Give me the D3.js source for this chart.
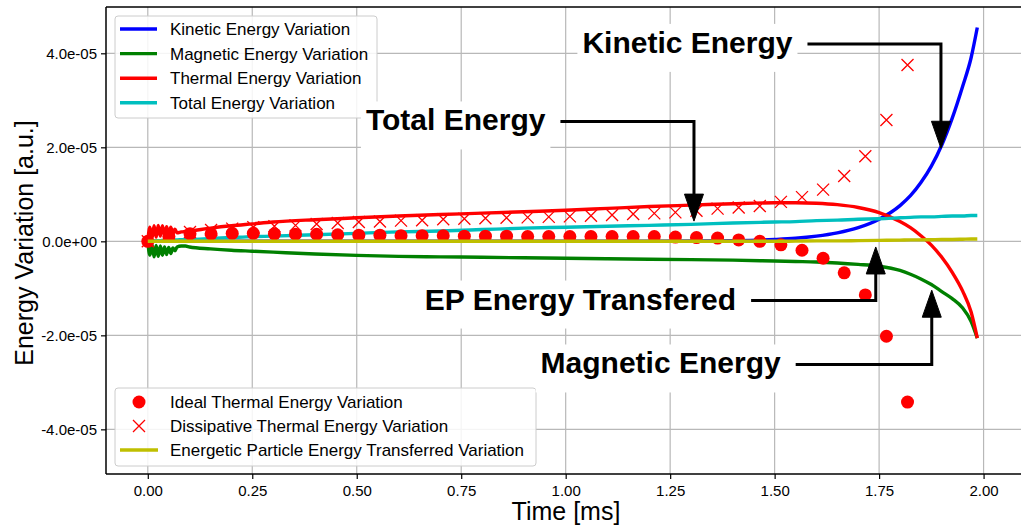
<!DOCTYPE html>
<html><head><meta charset="utf-8">
<script src="https://cdn.jsdelivr.net/npm/d3@7"></script>
<style>
body{margin:0;background:#fff}
svg{display:block}
text{font-family:"Liberation Sans",Arial,Helvetica,sans-serif}
</style>
</head><body>
<svg id="chart" width="1021" height="529"></svg>
<script>
// ---------- DATA (energies in units of 1e-5 a.u.) ----------
const tLine = [0,0.005,0.01,0.015,0.02,0.025,0.03,0.035,0.04,0.045,
  0.05,0.055,0.06,0.065,0.07,0.08,0.09,0.1,
  0.15,0.2,0.25,0.3,0.4,0.5,0.6,0.7,0.8,0.9,
  1.0,1.1,1.2,1.3,1.4,1.5,
  1.55,1.6,1.65,1.7,1.75,1.8,
  1.825,1.85,1.875,1.9,1.925,1.95,1.97,1.985];
const kineticVar = [0,0,0,0,0,0,0,0,0,0,
  0,0,0,0,0,0,0,0,
  0,0,0,0,0,0,0,0,0,0,
  0,0,0.002,0.006,0.015,0.04,
  0.065,0.11,0.18,0.29,0.47,0.76,
  0.97,1.25,1.6,2.05,2.62,3.3,3.9,4.55];
const magneticVar = [0,-0.3,-0.06,-0.33,-0.09,-0.32,-0.1,-0.3,-0.12,-0.28,
  -0.13,-0.26,-0.14,-0.2,-0.12,-0.1,-0.1,-0.12,
  -0.16,-0.19,-0.21,-0.23,-0.27,-0.3,-0.32,-0.33,-0.34,-0.35,
  -0.36,-0.37,-0.38,-0.39,-0.4,-0.42,
  -0.43,-0.44,-0.46,-0.49,-0.53,-0.62,
  -0.7,-0.8,-0.92,-1.07,-1.22,-1.42,-1.7,-2.06];
const thermalVar = [0,0.3,0.06,0.33,0.09,0.34,0.11,0.33,0.13,0.31,
  0.15,0.3,0.16,0.26,0.18,0.2,0.21,0.22,
  0.28,0.33,0.37,0.41,0.46,0.5,0.54,0.57,0.6,0.63,
  0.66,0.7,0.74,0.77,0.8,0.82,
  0.82,0.81,0.78,0.72,0.61,0.42,
  0.29,0.12,-0.08,-0.34,-0.66,-1.06,-1.5,-2.06];
const totalVar = [0,0.01,0.005,0.01,0.01,0.015,0.015,0.02,0.02,0.02,
  0.025,0.025,0.03,0.03,0.03,0.035,0.04,0.04,
  0.06,0.08,0.1,0.11,0.14,0.17,0.2,0.22,0.25,0.28,
  0.3,0.32,0.34,0.36,0.39,0.41,
  0.42,0.44,0.45,0.47,0.48,0.5,
  0.51,0.52,0.52,0.53,0.54,0.54,0.55,0.55];
const epTransferVar = [0,0,0,0,0,0,0,0,0,0,
  0,0,0,0,0,0,0,0,
  0,0,0,0,0,0,0,0,0,0,
  0,0,0,0,0,0,
  0.005,0.01,0.01,0.015,0.02,0.025,
  0.03,0.03,0.035,0.04,0.04,0.045,0.05,0.05];

const tMarks = [0,0.0505,0.101,0.1515,0.202,0.2525,0.303,0.3535,0.404,0.4545,
  0.505,0.5555,0.606,0.6565,0.707,0.7575,0.808,0.8585,0.909,0.9595,
  1.01,1.0605,1.111,1.1615,1.212,1.2625,1.313,1.3635,1.414,1.4645,
  1.515,1.5655,1.616,1.6665,1.717,1.7675,1.818];
const idealThermal = [0,0.1,0.16,0.16,0.17,0.17,0.16,0.15,0.15,0.14,
  0.13,0.13,0.12,0.12,0.12,0.11,0.11,0.11,0.1,0.1,
  0.1,0.1,0.1,0.1,0.1,0.09,0.08,0.07,0.03,0.0,
  -0.075,-0.19,-0.36,-0.67,-1.14,-2.02,-3.42];
const dissipThermal = [0,0.15,0.2,0.24,0.27,0.3,0.32,0.34,0.37,0.39,
  0.41,0.42,0.44,0.45,0.47,0.48,0.49,0.5,0.51,0.52,
  0.53,0.545,0.56,0.58,0.595,0.615,0.65,0.695,0.72,0.75,
  0.84,0.94,1.1,1.39,1.81,2.58,3.75];

const xTicks = [0,0.25,0.5,0.75,1.0,1.25,1.5,1.75,2.0];
const xTickLabels = ["0.00","0.25","0.50","0.75","1.00","1.25","1.50","1.75","2.00"];
const yTicks = [-4e-5,-2e-5,0,2e-5,4e-5];
const yTickLabels = ["-4.0e-05","-2.0e-05","0.0e+00","2.0e-05","4.0e-05"];

const legend1Labels = ["Kinetic Energy Variation","Magnetic Energy Variation","Thermal Energy Variation","Total Energy Variation"];
const legend2Labels = ["Ideal Thermal Energy Variation","Dissipative Thermal Energy Variation","Energetic Particle Energy Transferred Variation"];

const annoTexts = ["Kinetic Energy","Total Energy","EP Energy Transfered","Magnetic Energy"];
const annoTextT = [1.04,0.522,0.663,0.94];      // left edge of the text (ms)
const annoLineV = [4.2,2.55,-1.26,-2.62];        // level of the arrow's horizontal leg (1e-5)
const annoTipT  = [1.898,1.307,1.742,1.876];     // arrow tip (ms)
const annoTipV  = [1.98,0.43,-0.12,-1.04];       // arrow tip (1e-5)

// ---------- CHART ----------
const W = 1021, H = 529;
const L = 106, R = 1019.1, T = 7, B = 474;
const svg = d3.select("#chart");
const x = d3.scaleLinear().domain([-0.1, 2.085]).range([L, R]);
const y = d3.scaleLinear().domain([-4.95e-5, 4.985e-5]).range([B, T]);
const S = 1e-5;

const COL = {blue:"#0000ff", green:"#008000", red:"#ff0000", cyan:"#00bfbf", yellow:"#bfbf00"};

svg.append("rect").attr("width",W).attr("height",H).attr("fill","#fff");
svg.append("defs").append("clipPath").attr("id","clip")
  .append("rect").attr("x",L).attr("y",T).attr("width",W-L).attr("height",B-T);

// grid
const grid = svg.append("g").attr("stroke","#b8b8b8").attr("stroke-width",1.2);
grid.selectAll(".gx").data(xTicks).join("line")
  .attr("x1",d=>x(d)).attr("x2",d=>x(d)).attr("y1",T).attr("y2",B);
grid.selectAll(".gy").data(yTicks).join("line")
  .attr("x1",L).attr("x2",W).attr("y1",d=>y(d)).attr("y2",d=>y(d));

// axes
const xAxis = d3.axisBottom(x).tickValues(xTicks).tickFormat((d,i)=>xTickLabels[i]).tickSize(5).tickSizeOuter(0);
const yAxis = d3.axisLeft(y).tickValues(yTicks).tickFormat((d,i)=>yTickLabels[i]).tickSize(5).tickSizeOuter(0);
const gx = svg.append("g").attr("transform",`translate(0,${B})`).call(xAxis);
const gy = svg.append("g").attr("transform",`translate(${L},0)`).call(yAxis);
gx.select(".domain").remove(); gy.select(".domain").remove();
[gx,gy].forEach(g=>{
  g.selectAll(".tick line").attr("stroke","#000").attr("stroke-width",1.2);
  g.selectAll(".tick text").attr("font-size","15px").attr("fill","#000")
    .attr("font-family","'Liberation Sans',Arial,sans-serif");
});
gx.selectAll(".tick text").attr("dy",null).attr("y",21.5);
gy.selectAll(".tick text").attr("x",-9).attr("dy","0.35em");

// spines
svg.append("line").attr("x1",L).attr("x2",L).attr("y1",T).attr("y2",B).attr("stroke","#000").attr("stroke-width",1.5);
svg.append("line").attr("x1",L).attr("x2",W).attr("y1",B).attr("y2",B).attr("stroke","#000").attr("stroke-width",1.5);
svg.append("line").attr("x1",L).attr("x2",W).attr("y1",T).attr("y2",T).attr("stroke","#000").attr("stroke-width",1.5);

// axis labels
svg.append("text").attr("x",566).attr("y",520).attr("text-anchor","middle")
  .attr("font-size","25px").text("Time [ms]");
svg.append("text").attr("transform","translate(33,243) rotate(-90)").attr("text-anchor","middle")
  .attr("font-size","25px").text("Energy Variation [a.u.]");

// data series
const plot = svg.append("g").attr("clip-path","url(#clip)");
const lineGen = vals => d3.line().x((d,i)=>x(tLine[i])).y(d=>y(d*S)).curve(d3.curveMonotoneX)(vals);
const lw = 3.4;
[[kineticVar,COL.blue],[magneticVar,COL.green],[thermalVar,COL.red],[totalVar,COL.cyan]].forEach(([v,c])=>{
  plot.append("path").attr("d",lineGen(v)).attr("fill","none").attr("stroke",c)
    .attr("stroke-width",lw).attr("stroke-linejoin","round").attr("stroke-linecap","butt");
});
plot.selectAll(".dot").data(idealThermal).join("circle")
  .attr("cx",(d,i)=>x(tMarks[i])).attr("cy",d=>y(d*S)).attr("r",6.5).attr("fill",COL.red);
plot.selectAll(".xm").data(dissipThermal).join("path")
  .attr("transform",(d,i)=>`translate(${x(tMarks[i])},${y(d*S)})`)
  .attr("d","M-6,-6L6,6M-6,6L6,-6").attr("stroke",COL.red).attr("stroke-width",1.3).attr("fill","none");
plot.append("path").attr("d",lineGen(epTransferVar)).attr("fill","none").attr("stroke",COL.yellow)
  .attr("stroke-width",lw).attr("stroke-linejoin","round");

// legends
function legendBox(x0,y0,w,h){
  svg.append("rect").attr("x",x0).attr("y",y0).attr("width",w).attr("height",h).attr("rx",3)
    .attr("fill","#fff").attr("fill-opacity",0.85).attr("stroke","#cccccc").attr("stroke-width",1);
}
const lg1Colors = [COL.blue,COL.green,COL.red,COL.cyan];
const rowH = 24.6;
legendBox(115,16,262,102);
const lg1 = svg.append("g");
legend1Labels.forEach((lab,i)=>{
  const yy = 29 + i*rowH;
  lg1.append("line").attr("x1",120).attr("x2",157).attr("y1",yy).attr("y2",yy)
    .attr("stroke",lg1Colors[i]).attr("stroke-width",lw);
  lg1.append("text").attr("x",170).attr("y",yy+6).attr("font-size","17px").text(lab);
});
legendBox(115,388,421,78);
const lg2 = svg.append("g");
legend2Labels.forEach((lab,i)=>{
  const yy = 402 + i*24;
  if(i===0) lg2.append("circle").attr("cx",139).attr("cy",yy).attr("r",6.5).attr("fill",COL.red);
  if(i===1) lg2.append("path").attr("transform",`translate(139,${yy})`).attr("d","M-6,-6L6,6M-6,6L6,-6")
    .attr("stroke",COL.red).attr("stroke-width",1.3);
  if(i===2) lg2.append("line").attr("x1",120).attr("x2",158).attr("y1",yy).attr("y2",yy)
    .attr("stroke",COL.yellow).attr("stroke-width",lw);
  lg2.append("text").attr("x",170).attr("y",yy+6).attr("font-size","17px").text(lab);
});

// annotations
const ann = svg.append("g");
annoTexts.forEach((txt,i)=>{
  const tx = x(annoTextT[i]), ly = y(annoLineV[i]*S);
  const base = ly + 9;
  const bg = ann.append("rect").attr("fill","#fff");
  const t = ann.append("text").attr("x",tx).attr("y",base)
    .attr("font-family","'DejaVu Sans',sans-serif").attr("font-weight","bold")
    .attr("font-size","30px").attr("fill","#000").text(txt);
  const len = t.node().getComputedTextLength();
  bg.attr("x",tx-5).attr("y",base-29).attr("width",len+10).attr("height",48);
  const sx = tx + len + 15;
  const px = x(annoTipT[i]), py = y(annoTipV[i]*S);
  const dir = py > ly ? 1 : -1;
  const headL = 27, headW = 9.5;
  ann.append("path").attr("d",`M${sx},${ly}H${px}V${py - dir*headL*0.9}`)
    .attr("fill","none").attr("stroke","#000").attr("stroke-width",3).attr("stroke-linejoin","miter");
  ann.append("path").attr("d",`M${px},${py}L${px-headW},${py-dir*headL}L${px+headW},${py-dir*headL}Z`)
    .attr("fill","#000").attr("stroke","#000").attr("stroke-width",1);
});
</script>
</body></html>
